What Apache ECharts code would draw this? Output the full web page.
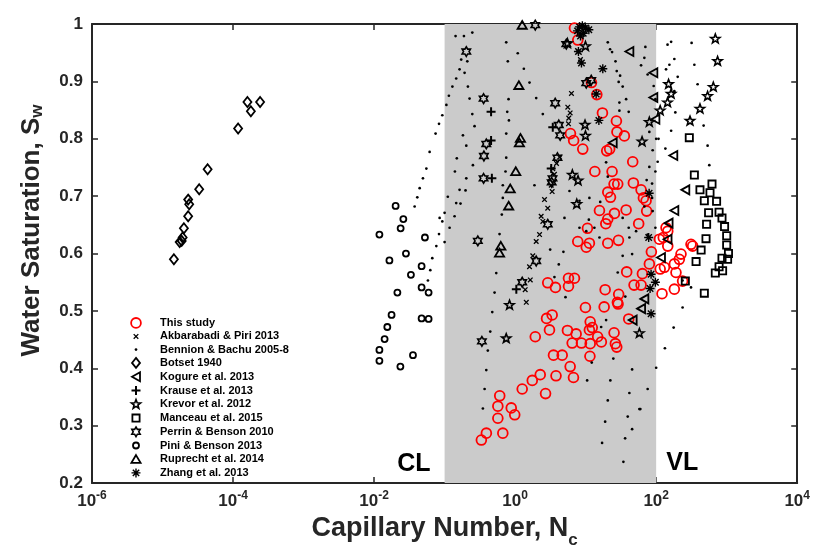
<!DOCTYPE html>
<html>
<head>
<meta charset="utf-8">
<script src="https://cdn.jsdelivr.net/npm/echarts@6/dist/echarts.min.js"></script>
<style>
  html, body { margin: 0; padding: 0; background: #ffffff; }
  #chart { width: 813px; height: 554px; }
</style>
</head>
<body>
<div id="chart"></div>
<script>
// Water saturation versus capillary number, [Nc, Sw] pairs per data source.
const thisStudy = [
  [6.94,0.993],[7.73,0.972],[12.1,0.898],[14.4,0.877],[17.3,0.845],[27.3,0.831],[27.8,0.812],[35.4,0.805],
  [6.09,0.809],[6.76,0.797],[9.1,0.782],[19.9,0.779],[21.9,0.782],[46.5,0.760],[13.5,0.743],[23.7,0.743],
  [25.3,0.721],[28.5,0.721],[47.5,0.723],[61.1,0.711],[20.6,0.707],[22.5,0.698],[65.9,0.697],[71.9,0.692],
  [15.7,0.675],[25.6,0.670],[37.5,0.676],[73.3,0.674],[20.6,0.660],[19.3,0.652],[56.5,0.652],[10.6,0.644],
  [7.73,0.621],[10.2,0.611],[11.3,0.618],[20.6,0.618],[29.2,0.623],[111,0.625],[138,0.645],[146,0.639],
  [126,0.628],[146,0.613],[85.5,0.603],[312,0.616],[329,0.613],[225,0.599],[213,0.590],[181,0.582],
  [131,0.576],[114,0.573],[80.1,0.582],[191,0.567],[237,0.552],[181,0.538],[121,0.530],[63.8,0.565],
  [61.1,0.545],[48.6,0.545],[38.2,0.568],[40.8,0.486],[29.4,0.529],[18.9,0.537],[28.2,0.515],[28.8,0.512],
  [18.3,0.507],[9.93,0.506],[2.9,0.549],[3.73,0.541],[5.71,0.557],[6.94,0.557],[5.71,0.543],[1.93,0.455],
  [3.07,0.467],[2.79,0.487],[3.35,0.493],[5.52,0.466],[7.33,0.460],[6.44,0.444],[8.72,0.444],[11.6,0.443],
  [11.3,0.467],[12.4,0.471],[11.6,0.481],[14.8,0.455],[16.7,0.446],[25.3,0.462],[26.4,0.443],[27.6,0.437],
  [3.5,0.423],[4.65,0.423],[11.5,0.421],[6.03,0.403],[6.72,0.384],[3.8,0.387],[2.27,0.389],[2.7,0.356],
  [1.75,0.379],[1.26,0.364],[0.605,0.352],[0.569,0.334],[0.881,0.331],[0.987,0.319],[0.569,0.313],
  [0.669,0.287],[0.391,0.287],[0.332,0.275]
];

const akbarabadiPiri2013 = [
  [6.29,0.879],[5.58,0.855],[6.03,0.845],[5.76,0.836],[5.71,0.826],[4.26,0.768],[3.86,0.757],[3.42,0.748],
  [3.61,0.738],[3.25,0.719],[3.35,0.708],[2.61,0.694],[2.9,0.679],[2.34,0.665],[2.47,0.656],[2.22,0.633],
  [1.99,0.621],[1.78,0.596],[1.6,0.577],[1.64,0.554],[1.39,0.537],[1.44,0.515],[8.44,0.938],[7.91,0.952]
];

const bennionBachu2005to8 = [
  [0.143,0.979],[0.188,0.979],[0.247,0.985],[0.172,0.938],[0.21,0.935],[0.163,0.921],[0.192,0.915],
  [0.146,0.905],[0.214,0.891],[0.129,0.891],[0.115,0.875],[0.226,0.870],[0.106,0.859],[0.247,0.843],
  [0.0928,0.841],[0.0833,0.826],[0.266,0.822],[0.0745,0.809],[0.182,0.806],[0.203,0.788],[0.0613,0.777],
  [0.149,0.766],[0.0551,0.748],[0.252,0.754],[0.14,0.743],[0.0493,0.731],[0.203,0.731],[0.0443,0.714],
  [0.163,0.711],[0.198,0.710],[0.0376,0.682],[0.111,0.699],[0.146,0.688],[0.1,0.671],[0.1385,0.665],
  [0.085,0.662],[0.1177,0.645],[0.0833,0.634],[0.0763,0.613],[0.0669,0.592],[0.0627,0.571],[0.058,0.553],
  [0.041,0.698],[0.1,0.620],[0.0928,0.656],[0.168,0.687],
  [0.748,0.968],[1.09,0.949],[0.788,0.935],[1.33,0.922],[1.6,0.898],[0.807,0.869],[1.99,0.871],
  [0.773,0.847],[2.47,0.843],[0.817,0.832],[0.748,0.809],[0.748,0.767],[0.731,0.743],[0.669,0.719],
  [1.88,0.719],[0.669,0.697],[0.648,0.668],[0.601,0.634],[0.54,0.566],[0.511,0.532],[0.474,0.498],
  [0.444,0.464],[0.41,0.431],[0.39,0.397],[0.369,0.364],[0.349,0.330],[3.14,0.607],[4.16,0.581],
  [4.84,0.603],[3.61,0.559],[5.18,0.524],
  [20.6,0.968],[22.2,0.956],[23.7,0.951],[26.5,0.935],[27.6,0.918],[30.8,0.910],[29.4,0.899],[33.5,0.891],
  [37.5,0.869],[30.1,0.863],[40.8,0.847],[30.1,0.849],[70.3,0.960],[68,0.941],[75.7,0.912],[92.2,0.892],
  [97.5,0.869],[100,0.800],[89.2,0.780],[80,0.751],[97.5,0.743],[73.3,0.728],[87.5,0.697],[68,0.682],
  [89.2,0.674],[97.5,0.645],[75.7,0.633],[51.9,0.639],[40.8,0.645],[33.5,0.662],[13.3,0.645],[15.7,0.628],
  [41.7,0.628],[19.5,0.759],[20.6,0.734],[11.3,0.697],[16.1,0.690],[11.1,0.659],[10.2,0.639],[8.17,0.645],
  [8.17,0.692],[5.01,0.662],[5.9,0.709],
  [145,0.964],[163,0.969],[318,0.967],[181,0.939],[154,0.929],[138,0.921],[348,0.929],[202,0.908],
  [387,0.895],[181,0.883],[187,0.846],[471,0.823],[163,0.814],[536,0.788],[567,0.754],[135,0.783],
  [108,0.800],[105,0.760],[87.5,0.722],[237,0.553],[312,0.541],[237,0.506],[177,0.471],[133,0.435],
  [100,0.401],[75.7,0.364],[59.7,0.329],
  [12.2,0.410],[24.7,0.417],[45.6,0.398],[10.5,0.379],[22.4,0.379],[41.7,0.357],[20.6,0.344],[57.8,0.329],
  [18.9,0.307],[39.5,0.316],[45.6,0.294],[17.1,0.270],[36.3,0.278],[34.3,0.237],[16.6,0.472],[33.5,0.596],
  [45.6,0.599],[36.5,0.525],[28.5,0.567],[19.5,0.484],[80,0.812],[61.1,0.928]
];

const botset1940 = [
  [1.45e-5,0.590],[1.75e-5,0.620],[1.87e-5,0.622],[1.93e-5,0.628],[2.01e-5,0.644],[2.31e-5,0.665],
  [2.39e-5,0.686],[2.31e-5,0.694],[3.31e-5,0.712],[4.36e-5,0.747],[1.18e-4,0.818],[1.60e-4,0.864],
  [1.79e-4,0.848],[2.42e-4,0.864]
];

const kogure2013 = [
  [41.7,0.952],[91.2,0.915],[91.2,0.872],[97.5,0.834],[24.2,0.793],[175,0.771],[259,0.711],[181,0.675],
  [150,0.653],[145,0.625],[117,0.593],[68,0.521],[61.1,0.504],[46.4,0.484]
];

const krause2013 = [
  [0.456,0.847],[0.456,0.797],[0.468,0.731],[3.42,0.820],[3.25,0.748],[1.04,0.538]
];

const krevor2012 = [
  [690,0.974],[743,0.935],[646,0.890],[536,0.874],[418,0.852],[302,0.831],[150,0.895],[163,0.878],
  [145,0.863],[114,0.849],[80,0.829],[63.1,0.795],[5.52,0.966],[9.94,0.961],[9.8,0.824],[9.94,0.805],
  [6.48,0.737],[7.8,0.727],[7.48,0.686],[0.833,0.510],[0.748,0.452],[57.8,0.461]
];

const manceau2015 = [
  [295,0.802],[348,0.737],[418,0.711],[619,0.721],[580,0.706],[482,0.692],[719,0.691],[554,0.671],
  [780,0.672],[858,0.662],[933,0.647],[519,0.651],[1000,0.631],[509,0.626],[1000,0.615],[1060,0.600],
  [434,0.606],[1030,0.590],[858,0.592],[368,0.586],[780,0.577],[690,0.566],[875,0.570],[259,0.552],
  [482,0.531]
];

const perrinBenson2010 = [
  [0.203,0.952],[0.357,0.870],[0.39,0.791],[0.361,0.770],[0.357,0.731],[0.296,0.622],[1.93,0.998],
  [3.7,0.862],[4.16,0.824],[4.35,0.806],[5.32,0.965],[3.98,0.767],[3.39,0.731],[3.3,0.724],[10.2,0.897],
  [12,0.902],[2.9,0.651],[1.99,0.587],[1.26,0.550],[0.338,0.447]
];

const piniBenson2013 = [
  [0.0202,0.683],[0.026,0.660],[0.0238,0.644],[0.0119,0.633],[0.0526,0.628],[0.0283,0.600],[0.0165,0.588],
  [0.0472,0.578],[0.0333,0.563],[0.0472,0.541],[0.0593,0.532],[0.0214,0.532],[0.0177,0.493],[0.0472,0.487],
  [0.0593,0.486],[0.0154,0.472],[0.0141,0.451],[0.0119,0.432],[0.0119,0.413],[0.0356,0.423],[0.0236,0.403]
];

const ruprecht2014 = [
  [1.26,0.998],[1.13,0.893],[1.19,0.801],[1.15,0.793],[1.02,0.743],[0.852,0.713],[0.81,0.683],
  [0.627,0.613],[0.601,0.601]
];

const zhang2013 = [
  [17.5,0.922],[15.4,0.832],[14.1,0.878],[8.72,0.932],[7.9,0.952],[79.5,0.705],[78.3,0.628],[84.7,0.564],
  [97.5,0.550],[82,0.539],[84.7,0.495],[8.17,0.995],[8.98,0.997],[9.94,0.993],[11.1,0.990],[9.25,0.984],
  [7.66,0.988],[8.45,0.979]
];

// Flow regime boundaries (capillary-limited / viscous-limited)
const clBoundary = 0.1;
const vlBoundary = 100;

const FONT = "'Liberation Sans', Arial, Helvetica, sans-serif";
const AXIS_COLOR = '#262626';

// Marker outlines drawn around the origin, in pixels
const SHAPES = {
  circleBig: 'M4.9,0A4.9,4.9,0,1,1,-4.9,0A4.9,4.9,0,1,1,4.9,0Z',
  cross: 'M-2.3,-2.3L2.3,2.3M2.3,-2.3L-2.3,2.3',
  dot: 'M1.35,0A1.35,1.35,0,1,1,-1.35,0A1.35,1.35,0,1,1,1.35,0Z',
  diamond: 'M0,-5L4,0L0,5L-4,0Z',
  triLeft: 'M-4,0L4,-4.5L4,4.5Z',
  plus: 'M0,-4.5L0,4.5M-4.5,0L4.5,0',
  star: 'M0,-4.8L1.18,-1.62L4.57,-1.48L1.9,0.62L2.82,3.88L0,2L-2.82,3.88L-1.9,0.62L-4.57,-1.48L-1.18,-1.62Z',
  square: 'M-3.6,-3.6L3.6,-3.6L3.6,3.6L-3.6,3.6Z',
  hexagram: 'M0,-4.8L1.39,-2.4L4.16,-2.4L2.77,0L4.16,2.4L1.39,2.4L0,4.8L-1.39,2.4L-4.16,2.4L-2.77,0L-4.16,-2.4L-1.39,-2.4Z',
  circleSmall: 'M3,0A3,3,0,1,1,-3,0A3,3,0,1,1,3,0Z',
  triUp: 'M0,-4.2L4.6,3.6L-4.6,3.6Z',
  asterisk: 'M0,-4.5L0,4.5M-4.5,0L4.5,0M-3.2,-3.2L3.2,3.2M3.2,-3.2L-3.2,3.2'
};

// Fixed bounding boxes keep marker sizes in pixels (chart: 14x14, legend: 38x12)
const markerSymbol = shape => 'path://M-7,-7M7,7' + shape;
const legendSymbol = shape => 'path://M-19,-6M19,6' + shape;

const HOLLOW = 'rgba(0,0,0,0)';
const sources = [
  { name: 'This study', data: thisStudy, shape: SHAPES.circleBig, stroke: '#ff0000', fill: HOLLOW, lw: 1.8 },
  { name: 'Akbarabadi & Piri 2013', data: akbarabadiPiri2013, shape: SHAPES.cross, stroke: '#000', fill: HOLLOW, lw: 1.3 },
  { name: 'Bennion & Bachu 2005-8', data: bennionBachu2005to8, shape: SHAPES.dot, stroke: '#000', fill: '#000', lw: 0 },
  { name: 'Botset 1940', data: botset1940, shape: SHAPES.diamond, stroke: '#000', fill: HOLLOW, lw: 1.8 },
  { name: 'Kogure et al. 2013', data: kogure2013, shape: SHAPES.triLeft, stroke: '#000', fill: HOLLOW, lw: 1.8 },
  { name: 'Krause et al. 2013', data: krause2013, shape: SHAPES.plus, stroke: '#000', fill: HOLLOW, lw: 2 },
  { name: 'Krevor et al. 2012', data: krevor2012, shape: SHAPES.star, stroke: '#000', fill: HOLLOW, lw: 1.6 },
  { name: 'Manceau et al. 2015', data: manceau2015, shape: SHAPES.square, stroke: '#000', fill: HOLLOW, lw: 1.8 },
  { name: 'Perrin & Benson 2010', data: perrinBenson2010, shape: SHAPES.hexagram, stroke: '#000', fill: HOLLOW, lw: 1.6 },
  { name: 'Pini & Benson 2013', data: piniBenson2013, shape: SHAPES.circleSmall, stroke: '#000', fill: HOLLOW, lw: 1.8 },
  { name: 'Ruprecht et al. 2014', data: ruprecht2014, shape: SHAPES.triUp, stroke: '#000', fill: HOLLOW, lw: 1.8 },
  { name: 'Zhang et al. 2013', data: zhang2013, shape: SHAPES.asterisk, stroke: '#000', fill: HOLLOW, lw: 1.4 }
];

const chart = echarts.init(document.getElementById('chart'), null, { renderer: 'canvas' });

const logAxisBase = {
  type: 'log',
  logBase: 100,          // one tick every two decades
  min: 1e-6,
  max: 1e4,
  axisLine: { show: true, onZero: false, lineStyle: { color: AXIS_COLOR, width: 2 } },
  axisTick: { show: true, inside: true, length: 6, lineStyle: { color: AXIS_COLOR, width: 1.5 } },
  minorTick: { show: false },
  splitLine: { show: false }
};

const linAxisBase = {
  type: 'value',
  min: 0.2,
  max: 1,
  interval: 0.1,
  axisLine: { show: true, onZero: false, lineStyle: { color: AXIS_COLOR, width: 2 } },
  axisTick: { show: true, inside: true, length: 6, lineStyle: { color: AXIS_COLOR, width: 1.5 } },
  splitLine: { show: false }
};

const scatterSeries = sources.map(s => ({
  type: 'scatter',
  name: s.name,
  data: s.data,
  xAxisIndex: 0,
  yAxisIndex: 0,
  symbol: markerSymbol(s.shape),
  symbolSize: 14,
  itemStyle: { color: s.fill, borderColor: s.stroke, borderWidth: s.lw, opacity: 1 },
  emphasis: { disabled: true },
  silent: true,
  z: 3
}));

const regimeSeries = {
  type: 'scatter',
  name: 'regimes',
  data: [],
  xAxisIndex: 0,
  yAxisIndex: 0,
  silent: true,
  z: 1,
  markArea: {
    silent: true,
    itemStyle: { color: '#cbcbcb', opacity: 1 },
    data: [[{ xAxis: clBoundary, yAxis: 0.2 }, { xAxis: vlBoundary, yAxis: 1 }]]
  },
  markPoint: {
    silent: true,
    symbol: 'circle',
    symbolSize: 1,
    itemStyle: { color: 'rgba(0,0,0,0)' },
    label: {
      show: true,
      position: 'inside',
      formatter: '{b}',
      fontFamily: FONT,
      fontWeight: 'bold',
      fontSize: 25,
      color: '#000'
    },
    data: [
      { name: 'CL', coord: [0.0367, 0.233] },
      { name: 'VL', coord: [235, 0.234] }
    ]
  }
};

const option = {
  animation: false,
  backgroundColor: '#ffffff',
  grid: { left: 92, right: 14, top: 24, bottom: 66, containLabel: false },
  xAxis: [
    Object.assign({}, logAxisBase, {
      position: 'bottom',
      name: '{m|Capillary Number, N}{s|c}',
      nameLocation: 'middle',
      nameGap: 30,
      nameTextStyle: {
        rich: {
          m: { fontFamily: FONT, fontWeight: 'bold', fontSize: 27, lineHeight: 28, verticalAlign: 'top', color: '#262626' },
          s: { fontFamily: FONT, fontWeight: 'bold', fontSize: 17, lineHeight: 17, verticalAlign: 'top', padding: [17, 0, 0, 0], color: '#262626' }
        }
      },
      axisLabel: {
        show: true,
        margin: 7,
        formatter: v => '{b|10}{s|' + Math.round(Math.log10(v)) + '}',
        rich: {
          b: { fontFamily: FONT, fontWeight: 'bold', fontSize: 17, lineHeight: 19, verticalAlign: 'top', color: '#262626', padding: [3, 0, 0, 0] },
          s: { fontFamily: FONT, fontWeight: 'bold', fontSize: 12, lineHeight: 12, verticalAlign: 'top', color: '#262626' }
        }
      }
    }),
    Object.assign({}, logAxisBase, {
      position: 'top',
      axisLabel: { show: false }
    })
  ],
  yAxis: [
    Object.assign({}, linAxisBase, {
      position: 'left',
      name: '{m|Water Saturation, S}{s|w}',
      nameLocation: 'middle',
      nameGap: 45,
      nameTextStyle: {
        // extra leading space moves the rotated title toward the top of the axis
        padding: [0, 0, 0, 46],
        rich: {
          m: { fontFamily: FONT, fontWeight: 'bold', fontSize: 26, lineHeight: 28, verticalAlign: 'top', color: '#262626' },
          s: { fontFamily: FONT, fontWeight: 'bold', fontSize: 17, lineHeight: 17, verticalAlign: 'top', padding: [10, 0, 0, 0], color: '#262626' }
        }
      },
      axisLabel: {
        show: true,
        margin: 9,
        fontFamily: FONT,
        fontWeight: 'bold',
        fontSize: 17,
        color: '#262626'
      }
    }),
    Object.assign({}, linAxisBase, {
      position: 'right',
      axisLabel: { show: false }
    })
  ],
  legend: {
    show: true,
    orient: 'vertical',
    left: 116,
    top: 316,
    padding: 0,
    itemWidth: 38,
    itemHeight: 12,
    itemGap: 0,
    selectedMode: false,
    textStyle: { fontFamily: FONT, fontWeight: 'bold', fontSize: 11, lineHeight: 12.9, color: '#000' },
    data: sources.map(s => ({
      name: s.name,
      icon: legendSymbol(s.shape),
      itemStyle: { color: s.fill, borderColor: s.stroke, borderWidth: s.lw }
    }))
  },
  series: [regimeSeries].concat(scatterSeries)
};

chart.setOption(option);
</script>
</body>
</html>
